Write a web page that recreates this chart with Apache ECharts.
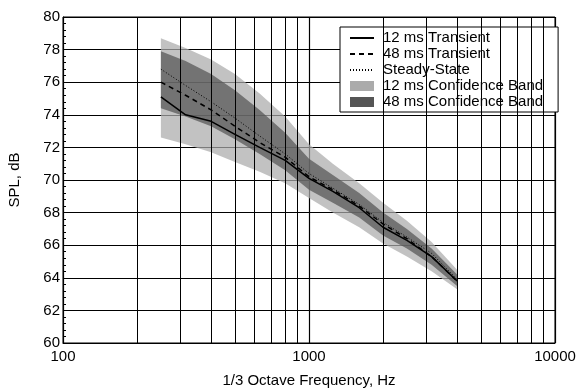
<!DOCTYPE html>
<html>
<head>
<meta charset="utf-8">
<script src="https://cdn.jsdelivr.net/npm/echarts@6/dist/echarts.min.js"></script>
<style>
  html, body { margin: 0; padding: 0; background: #fff; }
  #chart { width: 588px; height: 391px; }
</style>
</head>
<body>
<div id="chart"></div>
<script>
// 1/3 octave band centre frequencies (Hz)
const freqs = [250, 315, 400, 500, 630, 800, 1000, 1250, 1600, 2000, 2500, 3150, 4000];

// SPL curves, dB
const transient12 = [75.1, 74.0, 73.6, 72.8, 72.0, 71.2, 70.1, 69.3, 68.3, 67.1, 66.3, 65.3, 63.8];
const transient48 = [76.0, 75.2, 74.3, 73.3, 72.3, 71.4, 70.2, 69.4, 68.4, 67.3, 66.4, 65.3, 63.8];
const steadyState = [76.8, 75.8, 74.8, 73.8, 72.7, 71.6, 70.4, 69.5, 68.5, 67.4, 66.5, 65.5, 63.9];

// confidence bands, dB
const band12Low = [72.6, 72.2, 71.7, 71.1, 70.5, 69.8, 68.9, 68.0, 67.1, 66.1, 65.3, 64.4, 63.3];
const band12High = [78.7, 78.1, 77.4, 76.5, 75.3, 73.9, 72.2, 71.0, 69.8, 68.6, 67.5, 66.2, 64.5];
const band48Low = [74.4, 73.9, 73.3, 72.5, 71.6, 70.6, 69.4, 68.6, 67.7, 66.6, 65.8, 64.8, 63.5];
const band48High = [77.9, 77.3, 76.5, 75.5, 74.3, 72.9, 71.3, 70.3, 69.2, 68.0, 67.0, 65.8, 64.2];

// minor log gridlines
const minorFreqs = [200, 300, 400, 500, 600, 700, 800, 900, 2000, 3000, 4000, 5000, 6000, 7000, 8000, 9000];

const font = "Liberation Sans, Arial, sans-serif";
const pair = (ys) => freqs.map((f, i) => [f, ys[i]]);

const lightGray = "#ababab";
const darkGray = "#555555";

// band drawn as one polygon through the axis scales
function bandSeries(name, lo, hi, color, opacity, z) {
  return {
    name: name,
    type: "custom",
    data: freqs.map((f, i) => [f, lo[i], hi[i]]),
    encode: { x: 0, y: [1, 2] },
    itemStyle: { color: color },
    z: z,
    silent: true,
    renderItem: function (params, api) {
      if (params.dataIndex !== 0) return null;
      const top = freqs.map((f, i) => api.coord([f, hi[i]]));
      const bot = freqs.map((f, i) => api.coord([f, lo[i]])).reverse();
      return {
        type: "polygon",
        shape: { points: top.concat(bot) },
        style: { fill: color, opacity: opacity }
      };
    }
  };
}

const chart = echarts.init(document.getElementById("chart"), null, { renderer: "canvas" });

const lineItem = (name) => ({ name: name, itemStyle: { opacity: 0 } });

const option = {
  animation: false,
  backgroundColor: "#fff",
  textStyle: { fontFamily: font },
  grid: {
    left: 63, right: 33, top: 17, bottom: 48,
    outerBoundsMode: "none",
    containLabel: false,
    show: true, borderColor: "#000", borderWidth: 1
  },
  legend: {
    orient: "vertical",
    left: 340,
    top: 27,
    padding: [3, 15, 2, 9],
    itemGap: 0,
    itemWidth: 24,
    itemHeight: 10,
    backgroundColor: "#fff",
    borderColor: "#000",
    borderWidth: 1,
    textStyle: { fontFamily: font, fontSize: 15, lineHeight: 16, color: "#000", padding: [0, 0, 0, 4] },
    data: [
      lineItem("12 ms Transient"),
      lineItem("48 ms Transient"),
      lineItem("Steady-State"),
      { name: "12 ms Confidence Band", icon: "rect" },
      { name: "48 ms Confidence Band", icon: "rect" }
    ]
  },
  xAxis: {
    type: "log",
    logBase: 10,
    min: 100,
    max: 10000,
    name: "1/3 Octave Frequency, Hz",
    nameLocation: "middle",
    nameGap: 30,
    nameTextStyle: { fontFamily: font, fontSize: 15, color: "#000" },
    axisLine: { lineStyle: { color: "#000", width: 1 } },
    axisTick: { show: false },
    axisLabel: { fontFamily: font, fontSize: 15, color: "#000", margin: 6, formatter: (v) => String(Math.round(v)) },
    splitLine: { show: true, lineStyle: { color: "#000", width: 1.2 } }
  },
  yAxis: {
    type: "value",
    min: 60,
    max: 80,
    interval: 2,
    name: "SPL, dB",
    nameLocation: "middle",
    nameGap: 41,
    nameTextStyle: { fontFamily: font, fontSize: 15, color: "#000" },
    axisLine: { show: true, lineStyle: { color: "#000", width: 1 } },
    axisTick: { show: true, inside: true, length: 4, lineStyle: { color: "#000" } },
    minorTick: { show: true, splitNumber: 5, length: 3, lineStyle: { color: "#000" } },
    axisLabel: { fontFamily: font, fontSize: 15, color: "#000", margin: 3 },
    splitLine: { show: true, lineStyle: { color: "#000", width: 1.2 } }
  },
  series: [
    {
      name: "grid-minor",
      type: "line",
      data: [],
      silent: true,
      z: 1,
      markLine: {
        silent: true,
        symbol: "none",
        label: { show: false },
        lineStyle: { color: "#000", width: 1, type: "solid" },
        data: minorFreqs.map((f) => ({ xAxis: f }))
      }
    },
    bandSeries("12 ms Confidence Band", band12Low, band12High, lightGray, 0.72, 2),
    bandSeries("48 ms Confidence Band", band48Low, band48High, darkGray, 0.72, 3),
    {
      name: "Steady-State",
      type: "line",
      data: pair(steadyState),
      showSymbol: false,
      symbol: "none",
      itemStyle: { color: "#000" },
      lineStyle: { color: "#000", width: 1, type: [1, 2] },
      z: 4
    },
    {
      name: "48 ms Transient",
      type: "line",
      data: pair(transient48),
      showSymbol: false,
      symbol: "none",
      itemStyle: { color: "#000" },
      lineStyle: { color: "#000", width: 1.5, type: [5, 4] },
      z: 5
    },
    {
      name: "12 ms Transient",
      type: "line",
      data: pair(transient12),
      showSymbol: false,
      symbol: "none",
      itemStyle: { color: "#000" },
      lineStyle: { color: "#000", width: 1.5 },
      z: 6
    }
  ]
};

chart.setOption(option);
</script>
</body>
</html>
